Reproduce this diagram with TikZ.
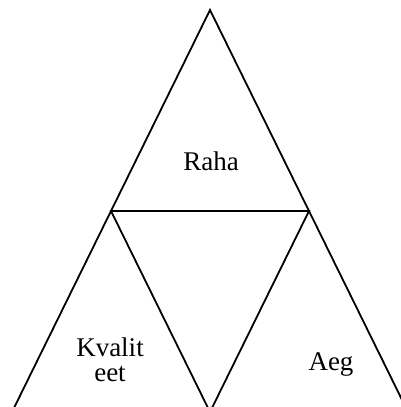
\documentclass[tikz,border=0pt]{standalone}
\usepackage{fontspec}
\setmainfont{Liberation Serif}
\tikzset{
  edge/.style={line width=1.8pt,line join=miter},
  lbl/.style={font=\fontsize{27}{25}\selectfont,align=center,inner sep=0pt}
}
\begin{document}
\begin{tikzpicture}[x=1pt,y=-1pt]
        \useasboundingbox (0,0) rectangle (401,407);
        \clip (0,0) rectangle (401,407);
        % outer triangle
        \coordinate (top) at (210,10);
        \coordinate (left) at (12,412);
        \coordinate (right) at (408,412);
        % midpoints
        \coordinate (midl) at (111,211);
        \coordinate (midr) at (309,211);
        \coordinate (midb) at (210,412);
        \draw[edge] (left) -- (top) -- (right);
        \draw[edge] (midl) -- (midr) -- (midb) -- cycle;

        \node[lbl] (raha) at (211,161) {Raha};
        \node[lbl] (kvaliteet) at (110,360) {Kvalit\\eet};
        \node[lbl] (aeg) at (331,364) {Aeg};
    \end{tikzpicture}
\end{document}
